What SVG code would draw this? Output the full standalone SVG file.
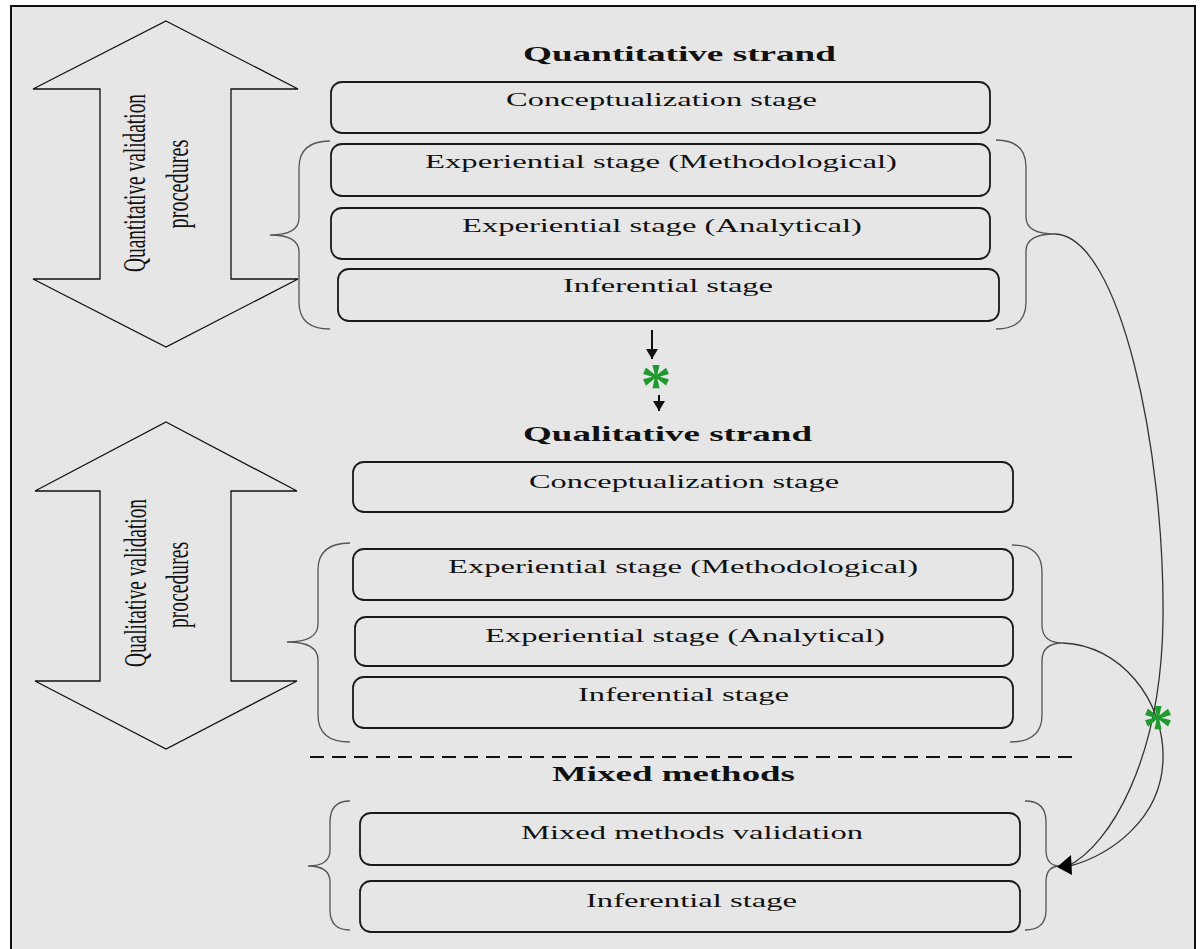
<svg xmlns="http://www.w3.org/2000/svg" width="1202" height="949" viewBox="0 0 1202 949">
  <style>
    .frame { fill: #e6e6e6; stroke: #111; stroke-width: 2; }
    .bigarrow { fill: #e6e6e6; stroke: #111; stroke-width: 1.3; }
    .box { fill: #e6e6e6; stroke: #1a1a1a; stroke-width: 1.8; }
    .brace { fill: none; stroke: #555; stroke-width: 1.3; }
    .curve { fill: none; stroke: #333; stroke-width: 1.3; }
    .title { font-family: "Liberation Serif", "Times New Roman", serif; font-weight: bold; font-size: 21px; fill: #111; }
    .label { font-family: "Liberation Serif", "Times New Roman", serif; font-size: 19.5px; fill: #111; }
    .vlabel { font-family: "Liberation Serif", "Times New Roman", serif; font-size: 32px; fill: #111; text-anchor: middle; }
    .star { font-family: "Liberation Serif", "Times New Roman", serif; font-size: 62px; font-weight: bold; fill: #1f9a2e; text-anchor: middle; }
  </style>
  <defs>
    <marker id="head" viewBox="0 0 10 12" refX="10" refY="6" markerWidth="10" markerHeight="12" markerUnits="userSpaceOnUse" orient="auto">
      <path d="M0,0 L10,6 L0,12 Z" fill="#111"/>
    </marker>
  </defs>

  <rect width="1202" height="949" fill="#ffffff"/>
  <rect class="frame" x="11" y="6" width="1184" height="960"/>

  <!-- Quantitative validation double arrow -->
  <g id="quant-validation">
    <path class="bigarrow" d="M166,21 L298,89 L231,89 L231,279 L298,279 L166,347 L33,279 L100,279 L100,89 L33,89 Z"/>
    <text class="vlabel" transform="translate(145,183) rotate(-90)" textLength="178" lengthAdjust="spacingAndGlyphs">Quantitative validation</text>
    <text class="vlabel" transform="translate(188,184) rotate(-90)" textLength="89" lengthAdjust="spacingAndGlyphs">procedures</text>
  </g>

  <!-- Qualitative validation double arrow -->
  <g id="qual-validation">
    <path class="bigarrow" d="M166,422 L297,491 L231,491 L231,681 L297,681 L166,749 L35,681 L100,681 L100,491 L35,491 Z"/>
    <text class="vlabel" transform="translate(146,583) rotate(-90)" textLength="168" lengthAdjust="spacingAndGlyphs">Qualitative validation</text>
    <text class="vlabel" transform="translate(188,585) rotate(-90)" textLength="86" lengthAdjust="spacingAndGlyphs">procedures</text>
  </g>

  <!-- Quantitative strand -->
  <g id="quant-title"><text class="title" x="523" y="61" textLength="313" lengthAdjust="spacingAndGlyphs">Quantitative strand</text></g>
  <g id="quant-concept">
    <rect class="box" x="331" y="82" width="659" height="51" rx="11"/>
    <text class="label" x="506" y="106" textLength="311" lengthAdjust="spacingAndGlyphs">Conceptualization stage</text>
  </g>
  <g id="quant-method">
    <rect class="box" x="331" y="144" width="659" height="52" rx="11"/>
    <text class="label" x="425" y="168" textLength="472" lengthAdjust="spacingAndGlyphs">Experiential stage (Methodological)</text>
  </g>
  <g id="quant-analytic">
    <rect class="box" x="331" y="208" width="659" height="51" rx="11"/>
    <text class="label" x="462" y="232" textLength="400" lengthAdjust="spacingAndGlyphs">Experiential stage (Analytical)</text>
  </g>
  <g id="quant-infer">
    <rect class="box" x="338" y="269" width="661" height="52" rx="11"/>
    <text class="label" x="563" y="292" textLength="210" lengthAdjust="spacingAndGlyphs">Inferential stage</text>
  </g>

  <!-- Qualitative strand -->
  <g id="qual-title"><text class="title" x="523" y="441" textLength="289" lengthAdjust="spacingAndGlyphs">Qualitative strand</text></g>
  <g id="qual-concept">
    <rect class="box" x="353" y="462" width="660" height="50" rx="11"/>
    <text class="label" x="529" y="488" textLength="310" lengthAdjust="spacingAndGlyphs">Conceptualization stage</text>
  </g>
  <g id="qual-method">
    <rect class="box" x="353" y="549" width="660" height="51" rx="11"/>
    <text class="label" x="448" y="573" textLength="470" lengthAdjust="spacingAndGlyphs">Experiential stage (Methodological)</text>
  </g>
  <g id="qual-analytic">
    <rect class="box" x="355" y="617" width="658" height="49" rx="11"/>
    <text class="label" x="485" y="642" textLength="400" lengthAdjust="spacingAndGlyphs">Experiential stage (Analytical)</text>
  </g>
  <g id="qual-infer">
    <rect class="box" x="353" y="677" width="660" height="51" rx="11"/>
    <text class="label" x="578" y="701" textLength="211" lengthAdjust="spacingAndGlyphs">Inferential stage</text>
  </g>

  <!-- Mixed methods -->
  <g id="mixed-title"><text class="title" x="552" y="781" textLength="243" lengthAdjust="spacingAndGlyphs">Mixed methods</text></g>
  <g id="mixed-validation">
    <rect class="box" x="360" y="813" width="660" height="52" rx="11"/>
    <text class="label" x="521" y="839" textLength="342" lengthAdjust="spacingAndGlyphs">Mixed methods validation</text>
  </g>
  <g id="mixed-infer">
    <rect class="box" x="360" y="881" width="660" height="51" rx="11"/>
    <text class="label" x="586" y="907" textLength="211" lengthAdjust="spacingAndGlyphs">Inferential stage</text>
  </g>

  <!-- Braces grouping the stages -->
  <g id="braces">
    <path class="brace" d="M330,141 Q299,141 299,168 L299,218 Q299,235 270,235 Q299,235 299,252 L299,302 Q299,329 330,329"/>
    <path class="brace" d="M996,140 Q1026,140 1026,167 L1026,217 Q1026,234 1055,234 Q1026,234 1026,251 L1026,302 Q1026,329 996,329"/>
    <path class="brace" d="M350,543 Q318,543 318,570 L318,624 Q318,642 287,642 Q318,642 318,660 L318,715 Q318,742 350,742"/>
    <path class="brace" d="M1012,545 Q1042,545 1042,572 L1042,625 Q1042,643 1063,643 Q1042,643 1042,661 L1042,715 Q1042,742 1010,742"/>
    <path class="brace" d="M350,801 Q330,801 330,822 L330,850 Q330,866 308,866 Q330,866 330,882 L330,910 Q330,930 350,930"/>
    <path class="brace" d="M1025,801 Q1046,801 1046,822 L1046,850 Q1046,866 1060,866 Q1046,866 1046,882 L1046,910 Q1046,930 1025,930"/>
  </g>

  <!-- Connectors -->
  <g id="connectors">
    <line x1="652" y1="330" x2="652" y2="359" stroke="#111" stroke-width="2" marker-end="url(#head)"/>
    <line x1="659" y1="395" x2="659" y2="411" stroke="#111" stroke-width="2" marker-end="url(#head)"/>
    <path class="curve" d="M1055,234 C1120,236 1165,450 1163,620 C1161,760 1110,845 1068,866"/>
    <path class="curve" d="M1063,643 C1120,645 1165,700 1163,760 C1161,820 1110,855 1070,866"/>
    <path d="M1057,867 L1071,855 L1072,875 Z" fill="#000"/>
    <line x1="310" y1="757" x2="1080" y2="757" stroke="#111" stroke-width="2" stroke-dasharray="14 8"/>
  </g>

  <!-- Asterisk marks -->
  <g id="marks">
    <text class="star" x="656" y="405">*</text>
    <text class="star" x="1158" y="746">*</text>
  </g>
</svg>
